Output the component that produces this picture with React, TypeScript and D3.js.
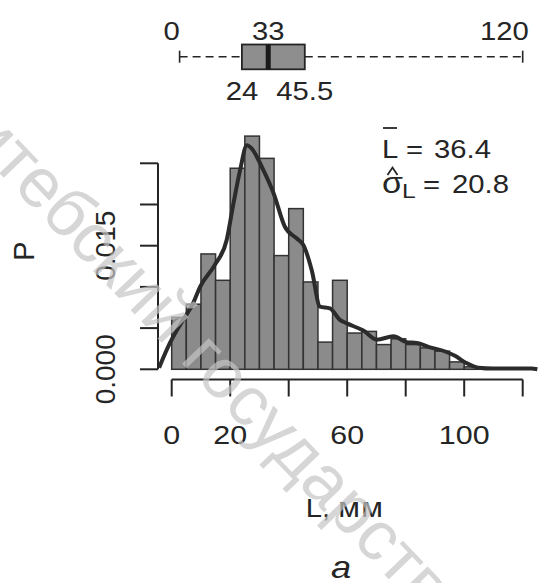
import React, { useRef, useEffect } from "react";
import { select, scaleLinear, line, curveMonotoneX } from "d3";

// histogram: bins of 5 mm, density values
const binStart = [0, 5, 10, 15, 20, 25, 30, 35, 40, 45, 50, 55, 60, 65, 70, 75, 80, 85, 90, 95, 100, 105, 110, 115];
const binDensity = [
  0.0063, 0.0079, 0.014, 0.0108, 0.0244, 0.0283, 0.0256, 0.0138, 0.0195, 0.0106, 0.0033, 0.0108,
  0.0044, 0.0046, 0.003, 0.0037, 0.003, 0.0026, 0.0022, 0.0009, 0.0003, 0.0, 0.0, 0.0,
];
const binWidth = 5;

// kernel density curve
const curveL = [
  -4.3, -0.6, 3.9, 7.3, 9.7, 14.8, 18.8, 21.1, 23.4, 25.7, 27.3, 31.3, 34.8, 38.7, 42.7, 45, 47.9,
  50.7, 54.1, 57.5, 59.7, 65.5, 70.1, 75.8, 80.3, 83.8, 88, 94, 97, 100.5, 104.8, 110, 118, 123, 125,
];
const curveP = [
  0.0002, 0.0032, 0.006, 0.008, 0.01, 0.0127, 0.0157, 0.0201, 0.0242, 0.0272, 0.0268, 0.0242, 0.0214,
  0.0173, 0.0159, 0.0151, 0.012, 0.0076, 0.0074, 0.006, 0.0056, 0.0047, 0.0036, 0.004, 0.0033, 0.0032,
  0.0027, 0.0021, 0.0016, 0.0008, 0.0002, 0.0001, 0.0001, 0.0001, 0.0,
];

const xTicks = [0, 20, 40, 60, 80, 100, 120];
const xTickLabels = ["0", "20", "", "60", "", "100", ""];
const yTicks = [0, 0.005, 0.01, 0.015, 0.02, 0.025];
const yTickLabels = ["0.000", "", "", "0.015", "", ""];

// boxplot: whisker low, q1, median, q3, whisker high
const boxValues = [2.7, 24, 33, 45.5, 120];
const boxTopAt = [0, 33, 120];
const boxTopText = ["0", "33", "120"];
const boxBottomAt = [24, 45.5];
const boxBottomText = ["24", "45.5"];

const meanL = "36.4";
const sigmaL = "20.8";
const watermark = "Витебский государственный университет";

const FONT = "'Liberation Sans', Arial, sans-serif";
const SX = 1.17; // the scan is a bit wider than tall

const App = () => {
  const svgRef = useRef<SVGSVGElement>(null);

  useEffect(() => {
    const width = 538;
    const height = 583;
    const svg = select(svgRef.current).attr("width", width).attr("height", height);
    svg.selectAll("*").remove();

    const x = scaleLinear().domain([0, 120]).range([171.7, 522.7]);
    const y = scaleLinear().domain([0, 0.025]).range([369.3, 163.3]);
    const ink = "#252525";

    // stretched horizontal text
    const label = (g, tx, ty, txt, size, anchor = "start", extra = {}) => {
      const t = g
        .append("text")
        .attr("transform", `translate(${tx},${ty}) scale(${SX},1)`)
        .attr("text-anchor", anchor)
        .attr("font-size", size)
        .attr("font-family", FONT)
        .attr("fill", ink)
        .text(txt);
      Object.entries(extra).forEach(([k, v]) => t.attr(k, v));
      return t;
    };

    // ---- boxplot on top
    const box = svg.append("g");
    const wy = 56.7;
    [[boxValues[0], boxValues[1]], [boxValues[3], boxValues[4]]].forEach(([a, b]) => {
      box
        .append("line")
        .attr("x1", x(a))
        .attr("x2", x(b))
        .attr("y1", wy)
        .attr("y2", wy)
        .attr("stroke", ink)
        .attr("stroke-width", 1.6)
        .attr("stroke-dasharray", "8,5");
    });
    [boxValues[0], boxValues[4]].forEach((v) => {
      box
        .append("line")
        .attr("x1", x(v))
        .attr("x2", x(v))
        .attr("y1", wy - 6)
        .attr("y2", wy + 6)
        .attr("stroke", ink)
        .attr("stroke-width", 1.6);
    });
    box
      .append("rect")
      .attr("x", x(boxValues[1]))
      .attr("y", 44.5)
      .attr("width", x(boxValues[3]) - x(boxValues[1]))
      .attr("height", 24.8)
      .attr("fill", "#8e8e8e")
      .attr("stroke", ink)
      .attr("stroke-width", 1.8);
    box
      .append("line")
      .attr("x1", x(boxValues[2]))
      .attr("x2", x(boxValues[2]))
      .attr("y1", 44.5)
      .attr("y2", 69.3)
      .attr("stroke", "#1a1a1a")
      .attr("stroke-width", 5);

    boxTopAt.forEach((v, i) => {
      if (i === 2) label(box, x(v) + 6, 39.5, boxTopText[i], 25, "end");
      else label(box, x(v), 39.5, boxTopText[i], 25, "middle");
    });
    boxBottomAt.forEach((v, i) => label(box, x(v), 100, boxBottomText[i], 25, "middle"));

    // ---- histogram
    const chart = svg.append("g");
    chart
      .selectAll(".bar")
      .data(binStart)
      .join("rect")
      .attr("class", "bar")
      .attr("x", (d) => x(d))
      .attr("width", (d) => x(d + binWidth) - x(d))
      .attr("y", (d, i) => y(binDensity[i]))
      .attr("height", (d, i) => y(0) - y(binDensity[i]))
      .attr("fill", "#8b8b8b")
      .attr("stroke", "#333")
      .attr("stroke-width", 1.5);

    const pts: [number, number][] = curveL.map((l, i) => [l, curveP[i]]);
    const densityLine = line<[number, number]>()
      .x((d) => x(d[0]))
      .y((d) => y(d[1]))
      .curve(curveMonotoneX);
    chart
      .append("path")
      .attr("d", densityLine(pts))
      .attr("fill", "none")
      .attr("stroke", "#2b2b2b")
      .attr("stroke-width", 4)
      .attr("stroke-linejoin", "round");

    // ---- y axis
    const yAxisX = 158;
    const yAxis = svg.append("g");
    yAxis
      .append("line")
      .attr("x1", yAxisX)
      .attr("x2", yAxisX)
      .attr("y1", y(yTicks[0]))
      .attr("y2", y(yTicks[yTicks.length - 1]))
      .attr("stroke", ink)
      .attr("stroke-width", 2);
    yAxis
      .selectAll(".ytick")
      .data(yTicks)
      .join("line")
      .attr("class", "ytick")
      .attr("x1", yAxisX - 18)
      .attr("x2", yAxisX)
      .attr("y1", (d) => y(d))
      .attr("y2", (d) => y(d))
      .attr("stroke", ink)
      .attr("stroke-width", 2);
    yAxis
      .selectAll(".ylab")
      .data(yTicks)
      .join("text")
      .attr("class", "ylab")
      .attr("transform", (d) => `translate(115,${y(d)}) rotate(-90)`)
      .attr("text-anchor", "middle")
      .attr("font-size", 28)
      .attr("font-family", FONT)
      .attr("fill", ink)
      .text((d, i) => yTickLabels[i]);
    svg
      .append("text")
      .attr("transform", "translate(34,251) rotate(-90)")
      .attr("text-anchor", "middle")
      .attr("font-size", 29)
      .attr("font-family", FONT)
      .attr("fill", ink)
      .text("P");

    // ---- x axis
    const xAxisY = 379.5;
    const xAxis = svg.append("g");
    xAxis
      .append("line")
      .attr("x1", x(xTicks[0]))
      .attr("x2", x(xTicks[xTicks.length - 1]))
      .attr("y1", xAxisY)
      .attr("y2", xAxisY)
      .attr("stroke", ink)
      .attr("stroke-width", 2);
    xAxis
      .selectAll(".xtick")
      .data(xTicks)
      .join("line")
      .attr("class", "xtick")
      .attr("x1", (d) => x(d))
      .attr("x2", (d) => x(d))
      .attr("y1", xAxisY)
      .attr("y2", xAxisY + 17)
      .attr("stroke", ink)
      .attr("stroke-width", 2);
    xTicks.forEach((v, i) => {
      if (xTickLabels[i]) label(xAxis, x(v), 444, xTickLabels[i], 26, "middle");
    });
    const xt = label(svg, 345, 517, "L, ", 25, "middle");
    xt.text(null);
    xt.append("tspan").text("L, ");
    xt.append("tspan").attr("font-size", 27).attr("letter-spacing", 1).text("мм");
    label(svg, 341, 578, "a", 31, "middle", { "font-style": "italic" });

    // ---- annotation: mean and sd
    const ann = svg.append("g");
    label(ann, 382, 158, "L", 25);
    ann
      .append("line")
      .attr("x1", 383)
      .attr("x2", 397)
      .attr("y1", 128)
      .attr("y2", 128)
      .attr("stroke", ink)
      .attr("stroke-width", 1.8);
    label(ann, 406, 158, "=", 25);
    label(ann, 434, 158, meanL, 25);
    label(ann, 382, 193, "σ", 29);
    ann
      .append("path")
      .attr("d", "M387.5,175 L392.5,167.5 L397.5,175")
      .attr("fill", "none")
      .attr("stroke", ink)
      .attr("stroke-width", 1.8);
    label(ann, 402, 198, "L", 21);
    label(ann, 423, 193, "=", 25);
    label(ann, 452, 193, sigmaL, 25);

    // ---- watermark
    svg
      .append("text")
      .attr("transform", "translate(-69,102) rotate(46.2)")
      .attr("font-size", 70)
      .attr("font-family", FONT)
      .attr("fill", "#c4c4c4")
      .attr("fill-opacity", 0.7)
      .text(watermark);
  }, []);

  return (
    <div style={{ position: "absolute", left: 0, top: 0, background: "#fff" }}>
      <svg ref={svgRef} style={{ display: "block" }}></svg>
    </div>
  );
};

export default App;
